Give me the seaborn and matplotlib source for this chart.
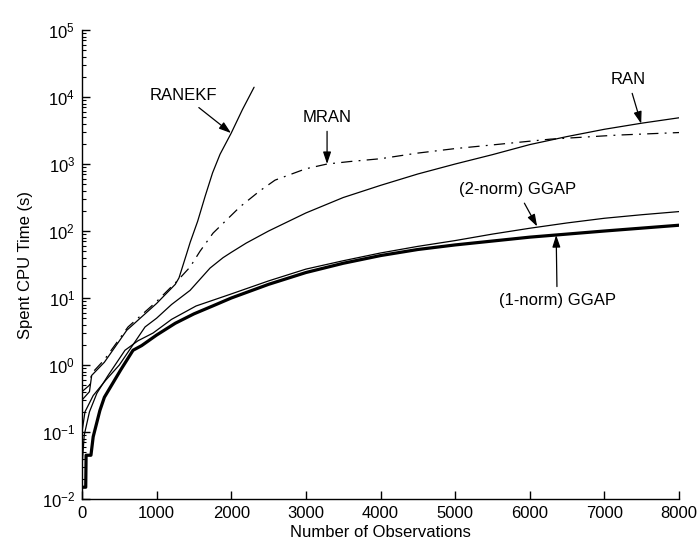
import matplotlib
matplotlib.use('Agg')
import matplotlib.pyplot as plt
import seaborn as sns
from matplotlib.ticker import LogLocator, MultipleLocator, NullFormatter

# values
ranekf_x = [0, 100, 130, 300, 600, 1000, 1250, 1300, 1350, 1400, 1450, 1550, 1650, 1750, 1850,
            2000, 2150, 2306]
ranekf_y = [0.3, 0.4, 0.7, 1.1, 3.3, 8.3, 16, 20, 30, 45, 68, 140, 330, 740, 1400,
            2900, 6500, 14000]

mran_x = [0, 100, 130, 300, 617, 992, 1287, 1448, 1582, 1756, 2118, 2386, 2587, 3000, 3284, 3592,
          4000, 4486, 5000, 5380, 6274, 7167, 8000]
mran_y = [0.4, 0.5, 0.75, 1.2, 3.7, 8.7, 18.5, 29, 50, 93, 230, 400, 575, 850, 1000, 1090,
          1200, 1450, 1700, 1870, 2350, 2700, 2950]

ran_x = [0, 40, 150, 322, 500, 845, 1000, 1200, 1448, 1716, 1890, 2000, 2200, 2500, 3000, 3500,
         4000, 4500, 5000, 5500, 6000, 6500, 7000, 7500, 8000]
ran_y = [0.1, 0.2, 0.35, 0.6, 1.0, 3.7, 5.0, 8.0, 13, 28, 40, 48, 66, 100, 186, 316,
         480, 710, 1000, 1380, 1950, 2570, 3300, 4070, 4900]

ggap2_x = [0, 30, 100, 200, 350, 576, 750, 952, 1200, 1528, 2000, 2500, 3000, 3500, 4000, 4500,
           5000, 5500, 6000, 6500, 7000, 7500, 8000]
ggap2_y = [0.03, 0.09, 0.2, 0.38, 0.7, 1.66, 2.3, 3.0, 4.8, 7.6, 11.5, 18, 27, 36, 47, 59,
           72, 90, 110, 132, 155, 175, 195]

ggap1_x = [0, 50, 55, 120, 150, 240, 300, 520, 684, 800, 1000, 1250, 1500, 1750, 2000, 2500, 3000,
           3500, 4000, 4500, 5000, 6000, 7000, 8000]
ggap1_y = [0.015, 0.015, 0.045, 0.045, 0.085, 0.21, 0.33, 0.85, 1.66, 1.95, 2.8, 4.2, 5.8, 7.6, 10, 16, 24,
           33, 43, 53, 62, 81, 100, 122]

y_ticks = [1e-2, 1e-1, 1e0, 1e1, 1e2, 1e3, 1e4, 1e5]

labels = ['RANEKF', 'MRAN', 'RAN', '(2-norm) GGAP', '(1-norm) GGAP']
label_xy = [(1354, 1.07e4), (3284, 4.9e3), (7319, 1.8e4), (5831, 410), (6367, 9.3)]
arrow_tip = [(1997, 2900), (3284, 1000), (7493, 4000), (6099, 117), (6354, 87)]


def main():
    sns.set_theme(style='ticks')
    plt.rcParams['font.family'] = ['Liberation Sans', 'DejaVu Sans']
    plt.rcParams['text.color'] = 'black'
    plt.rcParams['axes.labelcolor'] = 'black'
    plt.rcParams['mathtext.fontset'] = 'custom'
    plt.rcParams['mathtext.rm'] = 'Liberation Sans'
    plt.rcParams['mathtext.it'] = 'Liberation Sans'
    plt.rcParams['mathtext.default'] = 'regular'

    fig = plt.figure(figsize=(6.99, 5.52), dpi=100)
    ax = fig.add_axes([0.1173, 0.0960, 0.8541, 0.8496])

    common = dict(ax=ax, color='black', estimator=None, sort=False)
    sns.lineplot(x=ranekf_x, y=ranekf_y, lw=0.9, **common)
    sns.lineplot(x=mran_x, y=mran_y, lw=0.9, linestyle=(0, (9, 5, 1.5, 5)), **common)
    sns.lineplot(x=ran_x, y=ran_y, lw=0.9, **common)
    sns.lineplot(x=ggap2_x, y=ggap2_y, lw=0.9, **common)
    sns.lineplot(x=ggap1_x, y=ggap1_y, lw=2.3, **common)

    ax.set_yscale('log')
    ax.set_ylim(1e-2, 1e5)
    ax.set_xlim(0, 8000)
    ax.xaxis.set_major_locator(MultipleLocator(1000))
    ax.set_yticks(y_ticks)
    ax.yaxis.set_minor_locator(LogLocator(base=10, subs=range(2, 10), numticks=20))
    ax.yaxis.set_minor_formatter(NullFormatter())

    for text, xy_text, tip in zip(labels, label_xy, arrow_tip):
        ax.annotate(text, xy=tip, xytext=xy_text, ha='center', va='center', fontsize=12,
                    color='black',
                    arrowprops=dict(arrowstyle='-|>,head_length=0.6,head_width=0.2',
                                    color='black', lw=0.9, shrinkA=2, shrinkB=0))

    sns.despine(ax=ax)
    for side in ('left', 'bottom'):
        ax.spines[side].set_color('black')
        ax.spines[side].set_linewidth(1.0)
    ax.tick_params(axis='both', which='major', direction='in', length=6, width=1,
                   colors='black', labelsize=12, pad=5)
    ax.tick_params(axis='y', which='minor', direction='in', length=3, width=0.8, colors='black')
    ax.tick_params(axis='x', which='minor', bottom=False)

    ax.set_xlabel('Number of Observations', fontsize=12, labelpad=3)
    ax.set_ylabel('Spent CPU Time (s)', fontsize=12, labelpad=6)

    fig.savefig('out.png', dpi=100, facecolor='white')


if __name__ == '__main__':
    main()
